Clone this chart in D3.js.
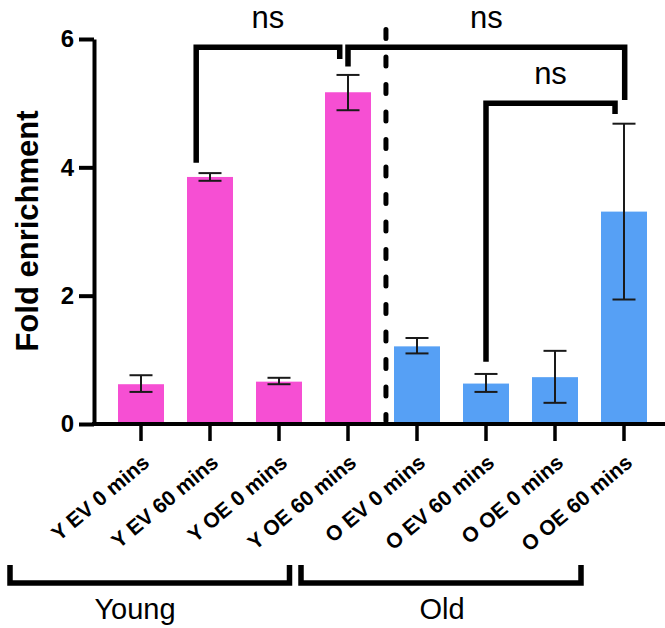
<!DOCTYPE html>
<html>
<head>
<meta charset="utf-8">
<script src="https://cdn.jsdelivr.net/npm/d3@7"></script>
<style>
  body { margin: 0; background: #fff; }
  text { font-family: "Liberation Sans", Arial, sans-serif; }
</style>
</head>
<body>
<div id="chart"></div>
<script>
// data
var categories = ["Y EV 0 mins", "Y EV 60 mins", "Y OE 0 mins", "Y OE 60 mins",
                  "O EV 0 mins", "O EV 60 mins", "O OE 0 mins", "O OE 60 mins"];
var means    = [0.62, 3.85, 0.66, 5.17, 1.21, 0.63, 0.73, 3.31];
var err_low  = [0.50, 3.79, 0.62, 4.89, 1.10, 0.50, 0.33, 1.94];
var err_high = [0.76, 3.91, 0.72, 5.44, 1.34, 0.78, 1.14, 4.68];
var groups   = ["Young", "Young", "Young", "Young", "Old", "Old", "Old", "Old"];
var y_ticks  = [0, 2, 4, 6];

// significance brackets: [left index, right index, top value, left foot, right foot, label]
var brackets = [
    [0.80, 2.88, 5.87, 4.07, 5.69, "ns"],
    [3.00, 7.01, 5.87, 5.57, 5.05, "ns"],
    [5.00, 6.87, 5.00, 0.97, 4.83, "ns"]
];

var chart_width  = 665;
var chart_height = 628;
var colors = { Young: "#F64FD3", Old: "#56A0F5" };

var svg = d3.select("#chart")
    .append("svg")
    .attr("width", chart_width)
    .attr("height", chart_height)
    .style("background", "#fff");

// Scales
var x_scale = d3.scaleBand()
    .domain(categories)
    .range([106.5, 658.5])
    .paddingInner(1 / 3)
    .paddingOuter(1 / 6);

var y_scale = d3.scaleLinear()
    .domain([0, 6])
    .range([424, 39]);

// position between category centres (for annotations)
var idx_scale = d3.scaleLinear()
    .domain([0, categories.length - 1])
    .range([x_scale(categories[0]) + x_scale.bandwidth() / 2,
            x_scale(categories[categories.length - 1]) + x_scale.bandwidth() / 2]);

var rows = categories.map(function(c, i) {
    return { cat: c, mean: means[i], lo: err_low[i], hi: err_high[i], group: groups[i] };
});

// Bars
svg.selectAll("rect.bar")
    .data(rows)
    .enter()
    .append("rect")
    .attr("class", "bar")
    .attr("x", function(d) { return x_scale(d.cat); })
    .attr("y", function(d) { return y_scale(d.mean); })
    .attr("width", x_scale.bandwidth())
    .attr("height", function(d) { return y_scale(0) - y_scale(d.mean); })
    .attr("fill", function(d) { return colors[d.group]; });

// Error bars
var err = svg.selectAll("g.err")
    .data(rows)
    .enter()
    .append("g")
    .attr("class", "err")
    .attr("stroke", "#1a1a1a")
    .attr("stroke-width", 2);

err.append("line")
    .attr("x1", function(d) { return x_scale(d.cat) + x_scale.bandwidth() / 2; })
    .attr("x2", function(d) { return x_scale(d.cat) + x_scale.bandwidth() / 2; })
    .attr("y1", function(d) { return y_scale(d.lo); })
    .attr("y2", function(d) { return y_scale(d.hi); });

["lo", "hi"].forEach(function(k) {
    err.append("line")
        .attr("x1", function(d) { return x_scale(d.cat) + x_scale.bandwidth() / 2 - 11.5; })
        .attr("x2", function(d) { return x_scale(d.cat) + x_scale.bandwidth() / 2 + 11.5; })
        .attr("y1", function(d) { return y_scale(d[k]); })
        .attr("y2", function(d) { return y_scale(d[k]); });
});

// Dashed divider between groups
svg.append("line")
    .attr("x1", idx_scale(3.55))
    .attr("x2", idx_scale(3.55))
    .attr("y1", y_scale(6.15))
    .attr("y2", y_scale(0.05))
    .attr("stroke", "#000")
    .attr("stroke-width", 5)
    .attr("stroke-linecap", "round")
    .attr("stroke-dasharray", "9,18.5");

// Y axis
var y_axis = d3.axisLeft(y_scale)
    .tickValues(y_ticks)
    .tickFormat(d3.format("d"))
    .tickSize(15)
    .tickSizeOuter(0)
    .tickPadding(5);

var gy = svg.append("g")
    .attr("transform", "translate(94,0)")
    .call(y_axis);
gy.select(".domain").attr("stroke-width", 4);
gy.selectAll(".tick line").attr("stroke-width", 4);
gy.selectAll(".tick text")
    .attr("font-size", 24)
    .attr("font-weight", "bold")
    .attr("fill", "#000");

// X axis
var x_axis = d3.axisBottom(x_scale)
    .tickSize(17)
    .tickSizeOuter(0)
    .tickFormat("");

var gx = svg.append("g")
    .attr("transform", "translate(0,424)")
    .call(x_axis);
gx.select(".domain").remove();
gx.selectAll(".tick line").attr("stroke-width", 3.5);
gx.append("line")
    .attr("x1", 92).attr("x2", chart_width)
    .attr("stroke", "#000").attr("stroke-width", 4);

// rotated category labels
svg.selectAll("text.cat")
    .data(categories)
    .enter()
    .append("text")
    .attr("class", "cat")
    .attr("transform", function(d) {
        return "translate(" + (x_scale(d) + x_scale.bandwidth() / 2 + 5) + ",459) rotate(-40)";
    })
    .attr("dy", "0.35em")
    .attr("text-anchor", "end")
    .attr("font-size", 21)
    .attr("font-weight", "bold")
    .text(function(d) { return d; });

// Y label
svg.append("text")
    .attr("transform", "translate(38,231) rotate(-90)")
    .attr("text-anchor", "middle")
    .attr("font-size", 31)
    .attr("font-weight", "bold")
    .text("Fold enrichment");

// Significance brackets
brackets.forEach(function(b) {
    var xl = idx_scale(b[0]), xr = idx_scale(b[1]), yt = y_scale(b[2]);
    svg.append("path")
        .attr("d", "M" + xl + "," + y_scale(b[3]) + "V" + yt + "H" + xr + "V" + y_scale(b[4]))
        .attr("fill", "none")
        .attr("stroke", "#000")
        .attr("stroke-width", 5.5);
    svg.append("text")
        .attr("x", (xl + xr) / 2)
        .attr("y", yt - 19)
        .attr("text-anchor", "middle")
        .attr("font-size", 31)
        .text(b[5]);
});

// Group brackets below the axis
var group_spans = [
    { label: "Young", x1: 10, x2: 289.5, tx: 135 },
    { label: "Old", x1: 301, x2: 581, tx: 442 }
];
group_spans.forEach(function(g) {
    svg.append("path")
        .attr("d", "M" + g.x1 + ",565V583H" + g.x2 + "V565")
        .attr("fill", "none")
        .attr("stroke", "#000")
        .attr("stroke-width", 5.5);
    svg.append("text")
        .attr("x", g.tx)
        .attr("y", 619)
        .attr("text-anchor", "middle")
        .attr("font-size", 29)
        .text(g.label);
});
</script>
</body>
</html>
